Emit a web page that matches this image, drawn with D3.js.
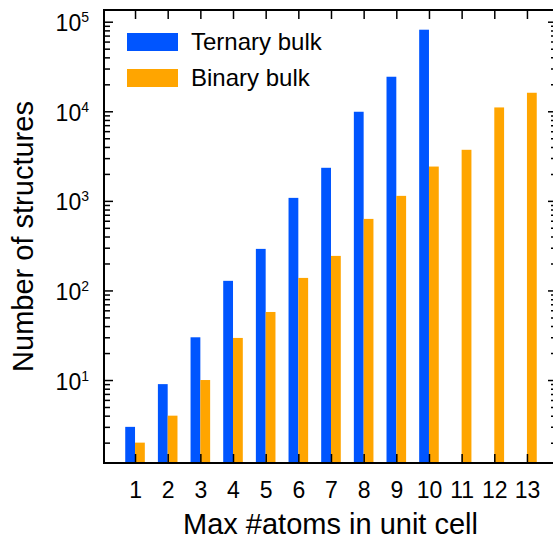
<!DOCTYPE html>
<html>
<head>
<meta charset="utf-8">
<script src="https://cdn.jsdelivr.net/npm/d3@7"></script>
<style>
  html, body { margin: 0; padding: 0; background: #fff; }
  svg { display: block; font-family: "Liberation Sans", Arial, Helvetica, sans-serif; }
</style>
</head>
<body>
<svg id="chart" width="553" height="539"></svg>
<script>
const categories = [1, 2, 3, 4, 5, 6, 7, 8, 9, 10, 11, 12, 13];
const ternaryBulk = [3, 9, 30, 128, 291, 1080, 2340, 9880, 24300, 81400, null, null, null];
const binaryBulk = [2, 4, 10, 29.5, 57.5, 138, 243, 629, 1137, 2416, 3716, 11040, 16100];
const seriesNames = ["Ternary bulk", "Binary bulk"];
const seriesColors = ["#0055ff", "#ffa500"];
const yMajorTicks = [10, 100, 1000, 10000, 100000];
const xTitle = "Max #atoms in unit cell";
const yTitle = "Number of structures";

const svg = d3.select("#chart");
const L = 104, R = 557, T = 10, B = 463;
const x = d3.scaleLinear().domain([0.05, 13.92]).range([L, R]);
const y = d3.scaleLog().domain([1.185, 1.351e5]).range([B, T]);
const bw = 0.3;

// minor ticks
const minor = [];
for (let e = 0; e <= 5; e++) for (let m = 2; m <= 9; m++) {
  const v = m * Math.pow(10, e);
  if (v >= y.domain()[0] && v <= y.domain()[1]) minor.push(v);
}

// bars
const gBars = svg.append("g");
categories.forEach((c, i) => {
  if (ternaryBulk[i] != null) {
    gBars.append("rect")
      .attr("x", x(c - bw)).attr("width", x(c) - x(c - bw))
      .attr("y", y(ternaryBulk[i])).attr("height", B - y(ternaryBulk[i]))
      .attr("fill", seriesColors[0]);
  }
  if (binaryBulk[i] != null) {
    gBars.append("rect")
      .attr("x", x(c)).attr("width", x(c + bw) - x(c))
      .attr("y", y(binaryBulk[i])).attr("height", B - y(binaryBulk[i]))
      .attr("fill", seriesColors[1]);
  }
});

function styleAxis(g) {
  g.select(".domain").remove();
  g.selectAll(".tick line").attr("stroke", "#000").attr("stroke-width", 1.5);
}

// left axis
svg.append("g").attr("transform", `translate(${L},0)`)
  .call(d3.axisLeft(y).tickValues(yMajorTicks).tickSize(-9).tickFormat(""))
  .call(styleAxis);
svg.append("g").attr("transform", `translate(${L},0)`)
  .call(d3.axisLeft(y).tickValues(minor).tickSize(-6).tickFormat(""))
  .call(styleAxis);
// right axis
svg.append("g").attr("transform", `translate(${R},0)`)
  .call(d3.axisRight(y).tickValues(yMajorTicks).tickSize(-9).tickFormat(""))
  .call(styleAxis);
svg.append("g").attr("transform", `translate(${R},0)`)
  .call(d3.axisRight(y).tickValues(minor).tickSize(-6).tickFormat(""))
  .call(styleAxis);

// y labels with superscripts
const yl = svg.append("g");
yMajorTicks.forEach(v => {
  const t = yl.append("text")
    .attr("x", L - 15).attr("y", y(v) + 9.5)
    .attr("text-anchor", "end").attr("font-size", 23).attr("fill", "#000");
  t.append("tspan").text("10");
  t.append("tspan").attr("font-size", 14).attr("dy", -9).text(Math.round(Math.log10(v)));
});

// bottom axis
svg.append("g").attr("transform", `translate(0,${B})`)
  .call(d3.axisBottom(x).tickValues(categories).tickSize(-9).tickPadding(18.4).tickFormat(d3.format("d")))
  .call(styleAxis)
  .call(g => g.selectAll("text").attr("font-size", 23).attr("fill", "#000").attr("font-family", null));
// top axis
svg.append("g").attr("transform", `translate(0,${T})`)
  .call(d3.axisTop(x).tickValues(categories).tickSize(-9).tickFormat(""))
  .call(styleAxis);

// frame
svg.append("rect").attr("x", L).attr("y", T).attr("width", R - L).attr("height", B - T)
  .attr("fill", "none").attr("stroke", "#000").attr("stroke-width", 2);

// legend
const leg = svg.append("g");
seriesNames.forEach((n, i) => {
  leg.append("rect").attr("x", 127).attr("y", 33 + i * 36).attr("width", 51).attr("height", 18)
    .attr("fill", seriesColors[i]);
  leg.append("text").attr("x", 191).attr("y", 50 + i * 36)
    .attr("font-size", 24).attr("fill", "#000").text(n);
});

// titles
svg.append("text").attr("x", (L + R) / 2).attr("y", 534)
  .attr("text-anchor", "middle").attr("font-size", 29).attr("fill", "#000").text(xTitle);
svg.append("text").attr("transform", `translate(33,${236.5}) rotate(-90)`)
  .attr("text-anchor", "middle").attr("font-size", 29).attr("fill", "#000").text(yTitle);
</script>
</body>
</html>
